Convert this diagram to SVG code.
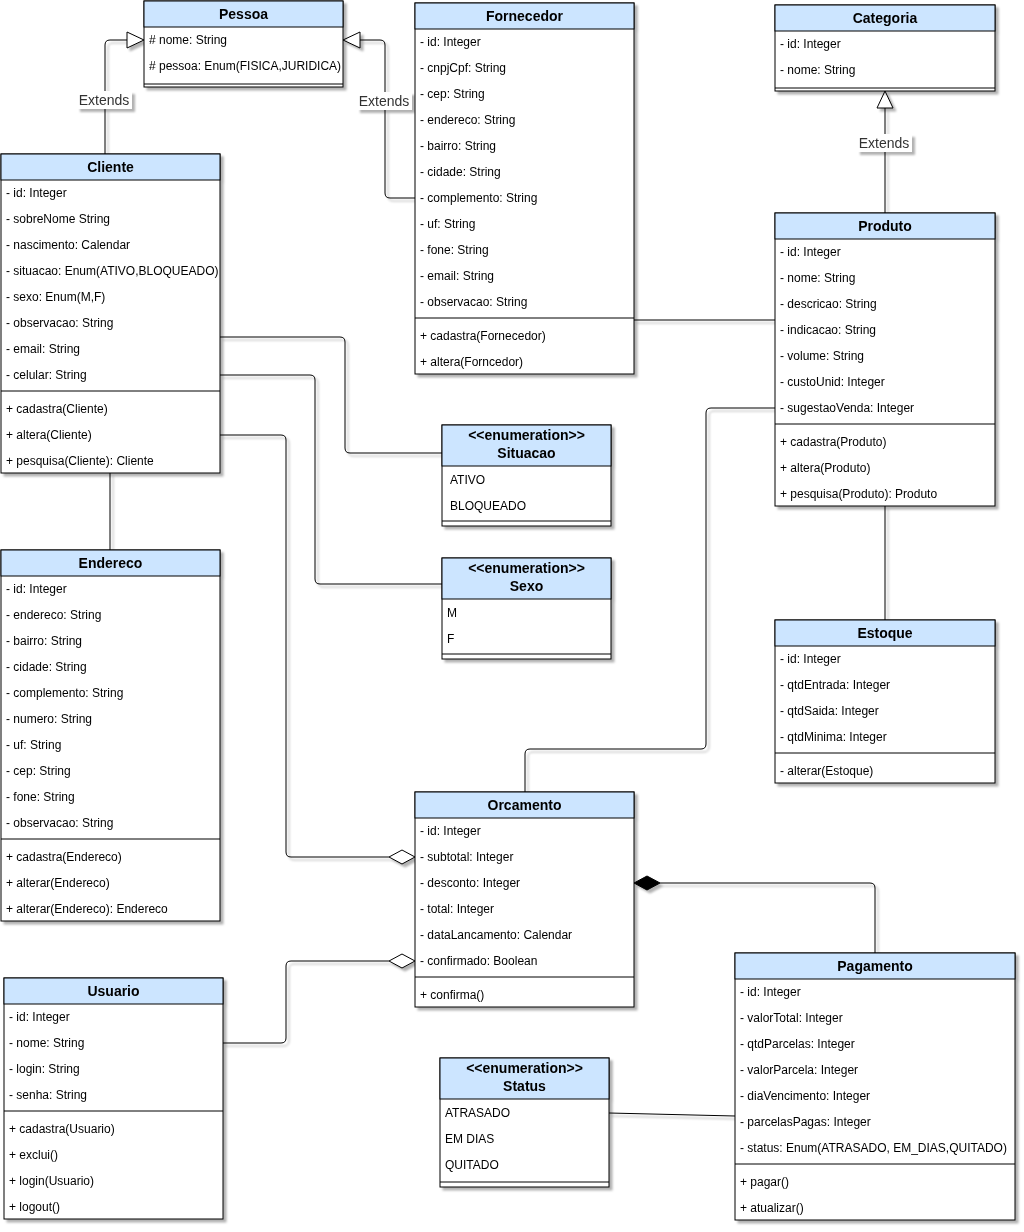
<svg xmlns="http://www.w3.org/2000/svg" width="1024" height="1232" viewBox="0 0 1024 1232">
<defs>
<filter id="sh" x="-10%" y="-10%" width="130%" height="130%"><feDropShadow dx="3" dy="3" stdDeviation="1" flood-color="#000" flood-opacity="0.3"/></filter>
</defs>
<style>
.box{fill:#fff;stroke:#000;stroke-width:1}
.hd{fill:#cce5ff;stroke:#000;stroke-width:1}
.sep{stroke:#000;stroke-width:1}
.t{font-family:"Liberation Sans",Arial,sans-serif;font-size:12px;fill:#000}
.h{font-family:"Liberation Sans",Arial,sans-serif;font-size:14px;font-weight:bold;fill:#000;text-anchor:middle}
.lbl{font-family:"Liberation Sans",Arial,sans-serif;font-size:14px;fill:#333;text-anchor:middle}
.c{fill:none;stroke:#000;stroke-width:1}
.hollow{fill:#fff;stroke:#000;stroke-width:1}
.solid{fill:#000;stroke:#000;stroke-width:1}
</style>
<rect width="1024" height="1232" fill="#fff"/>

<g id="connectors" filter="url(#sh)">
<path class="c" d="M105,154 V45 Q105,40 110,40 H127"/>
<polygon class="hollow" points="144,40 127,32 127,48"/>
<path class="c" d="M415,198 H390 Q385,198 385,193 V45 Q385,40 380,40 H360"/>
<polygon class="hollow" points="343,40 360,32 360,48"/>
<path class="c" d="M885,213 V108"/>
<polygon class="hollow" points="885,91 877,108 893,108"/>
<path class="c" d="M634,320 H775"/>
<path class="c" d="M220,337 H340 Q345,337 345,342 V448 Q345,453 350,453 H442"/>
<path class="c" d="M220,375 H310 Q315,375 315,380 V579 Q315,584 320,584 H442"/>
<path class="c" d="M220,435 H281 Q286,435 286,440 V852 Q286,857 291,857 H389"/>
<polygon class="hollow" points="415,857 402,850 389,857 402,864"/>
<path class="c" d="M110,473 V550"/>
<path class="c" d="M885,506 V620"/>
<path class="c" d="M525,792 V754 Q525,749 530,749 H701 Q706,749 706,744 V413 Q706,408 711,408 H775"/>
<path class="c" d="M223,1043 H281 Q286,1043 286,1038 V966 Q286,961 291,961 H389"/>
<polygon class="hollow" points="415,961 402,954 389,961 402,968"/>
<path class="c" d="M875,953 V888 Q875,883 870,883 H660"/>
<polygon class="solid" points="634,883 647,876 660,883 647,890"/>
<path class="c" d="M609,1113 L735,1116"/>
<rect x="77" y="91" width="55" height="18" fill="#fff"/>
<text class="lbl" x="104" y="105">Extends</text>
<rect x="357" y="92" width="55" height="18" fill="#fff"/>
<text class="lbl" x="384" y="106">Extends</text>
<rect x="857" y="134" width="55" height="18" fill="#fff"/>
<text class="lbl" x="884" y="148">Extends</text>
</g>

<g id="pessoa" filter="url(#sh)">
<rect class="box" x="144" y="1" width="199" height="86"/>
<rect class="hd" x="144" y="1" width="199" height="26"/>
<text class="h" x="243.5" y="19">Pessoa</text>
<text class="t" x="149" y="44">#&#160;nome: String</text>
<text class="t" x="149" y="70">#&#160;pessoa: Enum(FISICA,JURIDICA)</text>
<line class="sep" x1="144" y1="84" x2="343" y2="84"/>
</g>

<g id="fornecedor" filter="url(#sh)">
<rect class="box" x="415" y="3" width="219" height="371"/>
<rect class="hd" x="415" y="3" width="219" height="26"/>
<text class="h" x="524.5" y="21">Fornecedor</text>
<text class="t" x="420" y="46">- id: Integer</text>
<text class="t" x="420" y="72">- cnpjCpf: String</text>
<text class="t" x="420" y="98">- cep: String</text>
<text class="t" x="420" y="124">- endereco: String</text>
<text class="t" x="420" y="150">- bairro: String</text>
<text class="t" x="420" y="176">- cidade: String</text>
<text class="t" x="420" y="202">- complemento: String</text>
<text class="t" x="420" y="228">- uf: String</text>
<text class="t" x="420" y="254">- fone: String</text>
<text class="t" x="420" y="280">- email: String</text>
<text class="t" x="420" y="306">- observacao: String</text>
<line class="sep" x1="415" y1="318" x2="634" y2="318"/>
<text class="t" x="420" y="340">+ cadastra(Fornecedor)</text>
<text class="t" x="420" y="366">+ altera(Forncedor)</text>
</g>

<g id="categoria" filter="url(#sh)">
<rect class="box" x="775" y="5" width="220" height="86"/>
<rect class="hd" x="775" y="5" width="220" height="26"/>
<text class="h" x="885" y="23">Categoria</text>
<text class="t" x="780" y="48">- id: Integer</text>
<text class="t" x="780" y="74">- nome: String</text>
<line class="sep" x1="775" y1="88" x2="995" y2="88"/>
</g>

<g id="cliente" filter="url(#sh)">
<rect class="box" x="1" y="154" width="219" height="319"/>
<rect class="hd" x="1" y="154" width="219" height="26"/>
<text class="h" x="110.5" y="172">Cliente</text>
<text class="t" x="6" y="197">- id: Integer</text>
<text class="t" x="6" y="223">- sobreNome String</text>
<text class="t" x="6" y="249">- nascimento: Calendar</text>
<text class="t" x="6" y="275">- situacao: Enum(ATIVO,BLOQUEADO)</text>
<text class="t" x="6" y="301">- sexo: Enum(M,F)</text>
<text class="t" x="6" y="327">- observacao: String</text>
<text class="t" x="6" y="353">- email: String</text>
<text class="t" x="6" y="379">- celular: String</text>
<line class="sep" x1="1" y1="391" x2="220" y2="391"/>
<text class="t" x="6" y="413">+ cadastra(Cliente)</text>
<text class="t" x="6" y="439">+ altera(Cliente)</text>
<text class="t" x="6" y="465">+ pesquisa(Cliente): Cliente</text>
</g>

<g id="produto" filter="url(#sh)">
<rect class="box" x="775" y="213" width="220" height="293"/>
<rect class="hd" x="775" y="213" width="220" height="26"/>
<text class="h" x="885" y="231">Produto</text>
<text class="t" x="780" y="256">- id: Integer</text>
<text class="t" x="780" y="282">- nome: String</text>
<text class="t" x="780" y="308">- descricao: String</text>
<text class="t" x="780" y="334">- indicacao: String</text>
<text class="t" x="780" y="360">- volume: String</text>
<text class="t" x="780" y="386">- custoUnid: Integer</text>
<text class="t" x="780" y="412">- sugestaoVenda: Integer</text>
<line class="sep" x1="775" y1="424" x2="995" y2="424"/>
<text class="t" x="780" y="446">+ cadastra(Produto)</text>
<text class="t" x="780" y="472">+ altera(Produto)</text>
<text class="t" x="780" y="498">+ pesquisa(Produto): Produto</text>
</g>

<g id="situacao" filter="url(#sh)">
<rect class="box" x="442" y="425" width="169" height="101"/>
<rect class="hd" x="442" y="425" width="169" height="41"/>
<text class="h" x="526.5" y="440">&lt;&lt;enumeration&gt;&gt;</text>
<text class="h" x="526.5" y="458">Situacao</text>
<text class="t" x="450" y="484">ATIVO</text>
<text class="t" x="450" y="510">BLOQUEADO</text>
<line class="sep" x1="442" y1="521" x2="611" y2="521"/>
</g>

<g id="sexo" filter="url(#sh)">
<rect class="box" x="442" y="558" width="169" height="101"/>
<rect class="hd" x="442" y="558" width="169" height="41"/>
<text class="h" x="526.5" y="573">&lt;&lt;enumeration&gt;&gt;</text>
<text class="h" x="526.5" y="591">Sexo</text>
<text class="t" x="447" y="617">M</text>
<text class="t" x="447" y="643">F</text>
<line class="sep" x1="442" y1="654" x2="611" y2="654"/>
</g>

<g id="endereco" filter="url(#sh)">
<rect class="box" x="1" y="550" width="219" height="371"/>
<rect class="hd" x="1" y="550" width="219" height="26"/>
<text class="h" x="110.5" y="568">Endereco</text>
<text class="t" x="6" y="593">- id: Integer</text>
<text class="t" x="6" y="619">- endereco: String</text>
<text class="t" x="6" y="645">- bairro: String</text>
<text class="t" x="6" y="671">- cidade: String</text>
<text class="t" x="6" y="697">- complemento: String</text>
<text class="t" x="6" y="723">- numero: String</text>
<text class="t" x="6" y="749">- uf: String</text>
<text class="t" x="6" y="775">- cep: String</text>
<text class="t" x="6" y="801">- fone: String</text>
<text class="t" x="6" y="827">- observacao: String</text>
<line class="sep" x1="1" y1="839" x2="220" y2="839"/>
<text class="t" x="6" y="861">+ cadastra(Endereco)</text>
<text class="t" x="6" y="887">+ alterar(Endereco)</text>
<text class="t" x="6" y="913">+ alterar(Endereco): Endereco</text>
</g>

<g id="estoque" filter="url(#sh)">
<rect class="box" x="775" y="620" width="220" height="163"/>
<rect class="hd" x="775" y="620" width="220" height="26"/>
<text class="h" x="885" y="638">Estoque</text>
<text class="t" x="780" y="663">- id: Integer</text>
<text class="t" x="780" y="689">- qtdEntrada: Integer</text>
<text class="t" x="780" y="715">- qtdSaida: Integer</text>
<text class="t" x="780" y="741">- qtdMinima: Integer</text>
<line class="sep" x1="775" y1="753" x2="995" y2="753"/>
<text class="t" x="780" y="775">- alterar(Estoque)</text>
</g>

<g id="orcamento" filter="url(#sh)">
<rect class="box" x="415" y="792" width="219" height="215"/>
<rect class="hd" x="415" y="792" width="219" height="26"/>
<text class="h" x="524.5" y="810">Orcamento</text>
<text class="t" x="420" y="835">- id: Integer</text>
<text class="t" x="420" y="861">- subtotal: Integer</text>
<text class="t" x="420" y="887">- desconto: Integer</text>
<text class="t" x="420" y="913">- total: Integer</text>
<text class="t" x="420" y="939">- dataLancamento: Calendar</text>
<text class="t" x="420" y="965">- confirmado: Boolean</text>
<line class="sep" x1="415" y1="977" x2="634" y2="977"/>
<text class="t" x="420" y="999">+ confirma()</text>
</g>

<g id="usuario" filter="url(#sh)">
<rect class="box" x="4" y="978" width="219" height="241"/>
<rect class="hd" x="4" y="978" width="219" height="26"/>
<text class="h" x="113.5" y="996">Usuario</text>
<text class="t" x="9" y="1021">- id: Integer</text>
<text class="t" x="9" y="1047">- nome: String</text>
<text class="t" x="9" y="1073">- login: String</text>
<text class="t" x="9" y="1099">- senha: String</text>
<line class="sep" x1="4" y1="1111" x2="223" y2="1111"/>
<text class="t" x="9" y="1133">+ cadastra(Usuario)</text>
<text class="t" x="9" y="1159">+ exclui()</text>
<text class="t" x="9" y="1185">+ login(Usuario)</text>
<text class="t" x="9" y="1211">+ logout()</text>
</g>

<g id="pagamento" filter="url(#sh)">
<rect class="box" x="735" y="953" width="280" height="267"/>
<rect class="hd" x="735" y="953" width="280" height="26"/>
<text class="h" x="875" y="971">Pagamento</text>
<text class="t" x="740" y="996">- id: Integer</text>
<text class="t" x="740" y="1022">- valorTotal: Integer</text>
<text class="t" x="740" y="1048">- qtdParcelas: Integer</text>
<text class="t" x="740" y="1074">- valorParcela: Integer</text>
<text class="t" x="740" y="1100">- diaVencimento: Integer</text>
<text class="t" x="740" y="1126">- parcelasPagas: Integer</text>
<text class="t" x="740" y="1152">- status: Enum(ATRASADO, EM_DIAS,QUITADO)</text>
<line class="sep" x1="735" y1="1164" x2="1015" y2="1164"/>
<text class="t" x="740" y="1186">+ pagar()</text>
<text class="t" x="740" y="1212">+ atualizar()</text>
</g>

<g id="status" filter="url(#sh)">
<rect class="box" x="440" y="1058" width="169" height="129"/>
<rect class="hd" x="440" y="1058" width="169" height="41"/>
<text class="h" x="524.5" y="1073">&lt;&lt;enumeration&gt;&gt;</text>
<text class="h" x="524.5" y="1091">Status</text>
<text class="t" x="445" y="1117">ATRASADO</text>
<text class="t" x="445" y="1143">EM DIAS</text>
<text class="t" x="445" y="1169">QUITADO</text>
<line class="sep" x1="440" y1="1182" x2="609" y2="1182"/>
</g>
</svg>
